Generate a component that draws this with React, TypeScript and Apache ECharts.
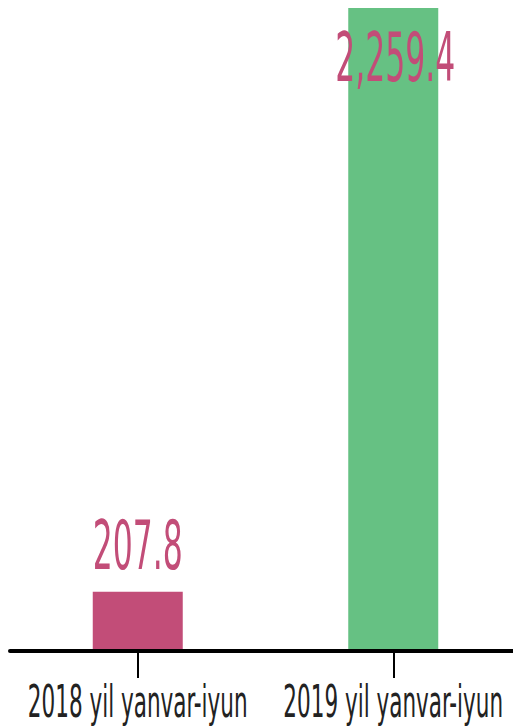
import React, { useEffect, useRef } from "react";
import * as echarts from "echarts";

const categories = ["2018 yil yanvar-iyun", "2019 yil yanvar-iyun"];
const values = [207.8, 2259.4];
const valueLabels = ["207.8", "2,259.4"];
const barColors = ["#c24d78", "#66c183"];

const FONT =
  '"Liberation Sans Narrow", "Arial Narrow", "DejaVu Sans Condensed", "Liberation Sans", sans-serif';

function measure(text: string, size: number): number {
  const ctx = document.createElement("canvas").getContext("2d")!;
  ctx.font = `${size}px ${FONT}`;
  return ctx.measureText(text).width;
}

export default function App() {
  const ref = useRef<HTMLDivElement>(null);
  useEffect(() => {
    const chart = echarts.init(ref.current!, undefined, { renderer: "svg" });
    chart.setOption({
      animation: false,
      grid: { left: 10, top: 8, width: 511, height: 643, outerBoundsMode: "none", containLabel: false },
      xAxis: {
        type: "category",
        data: categories,
        z: 5,
        axisLine: { lineStyle: { color: "#000", width: 4 } },
        axisTick: {
          show: true,
          interval: 0,
          alignWithLabel: true,
          length: 27,
          lineStyle: { color: "#000", width: 2 },
        },
        axisLabel: { show: true, interval: 0, color: "rgba(0,0,0,0)", fontSize: 1 },
      },
      yAxis: { type: "value", min: 0, max: 2259.4, show: false },
      series: [
        {
          type: "bar",
          barWidth: 90,
          data: values.map((v, i) => ({ value: v, itemStyle: { color: barColors[i] } })),
          z: 1,
        },
      ],
    });

    const graphics: any[] = [];
    const valueSize = 68;
    const valueWidths = [90, 120];
    const valueOffsets = [-46, 50];
    const catSize = 45;
    values.forEach((v, i) => {
      const top = chart.convertToPixel({ seriesIndex: 0 }, [i, v]) as number[];
      const base = chart.convertToPixel({ seriesIndex: 0 }, [i, 0]) as number[];
      const sx = valueWidths[i] / measure(valueLabels[i], valueSize);
      graphics.push({
        type: "text",
        x: top[0] + (i === 1 ? 2 : 0),
        y: top[1] + valueOffsets[i],
        scaleX: sx,
        z: 10,
        style: {
          text: valueLabels[i],
          fontSize: valueSize,
          fontFamily: FONT,
          fill: "#c24d78",
          align: "center",
          verticalAlign: "middle",
        },
      });
      const csx = 220 / measure(categories[i], catSize);
      graphics.push({
        type: "text",
        x: base[0],
        y: base[1] + 50,
        scaleX: csx,
        z: 10,
        style: {
          text: categories[i],
          fontSize: catSize,
          fontFamily: FONT,
          fill: "#222",
          align: "center",
          verticalAlign: "middle",
        },
      });
    });
    chart.setOption({ graphic: graphics });
    return () => chart.dispose();
  }, []);
  return (
    <div
      ref={ref}
      style={{ position: "fixed", left: 0, top: 0, width: 513, height: 726, background: "#fff" }}
    />
  );
}
